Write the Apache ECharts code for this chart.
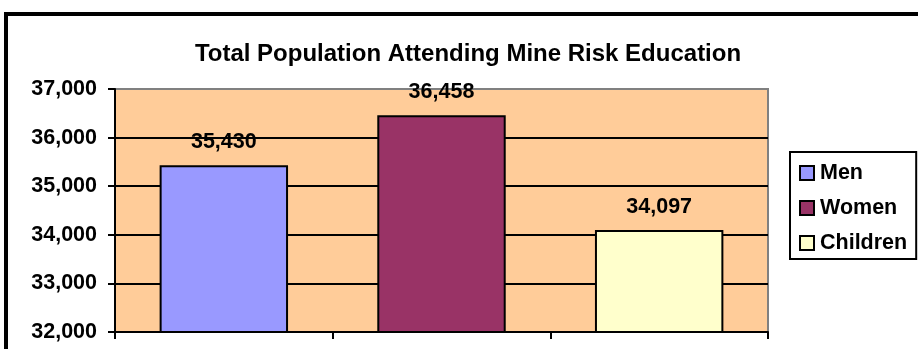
<!DOCTYPE html>
<html>
<head>
<meta charset="utf-8">
<script src="https://cdn.jsdelivr.net/npm/echarts@6/dist/echarts.min.js"></script>
<style>
  html, body { margin: 0; padding: 0; background: #fff; }
  #chart { width: 918px; height: 349px; }
</style>
</head>
<body>
<div id="chart"></div>
<script>
// Population groups and the number attending mine risk education
const groups = ['Men', 'Women', 'Children'];
const attendance = [35430, 36458, 34097];
const groupColors = ['#9999FF', '#993366', '#FFFFCC'];

// Value axis range
const yMin = 32000;
const yMax = 37000;
const yStep = 1000;

const FONT = 'Arial, "Liberation Sans", sans-serif';

function withCommas(v) {
  return String(v).replace(/\B(?=(\d{3})+(?!\d))/g, ',');
}

const chart = echarts.init(document.getElementById('chart'), null, { renderer: 'canvas' });

// One bar per group, overlaid on its own category slot so each group gets a legend entry
const series = groups.map((name, i) => ({
  name: name,
  type: 'bar',
  data: attendance.map((v, j) => (j === i ? v : '-')),
  barGap: '-100%',
  barCategoryGap: '41%',
  itemStyle: { color: groupColors[i], borderColor: '#000', borderWidth: 2 },
  label: {
    show: true,
    position: 'top',
    distance: 12,
    formatter: p => withCommas(p.value),
    color: '#000',
    fontFamily: FONT,
    fontWeight: 'bold',
    fontSize: 21.5
  },
  emphasis: { disabled: true },
  animation: false
}));

chart.setOption({
  animation: false,
  backgroundColor: '#fff',
  title: {
    text: 'Total Population Attending Mine Risk Education',
    left: 468,
    top: 42,
    padding: 0,
    textAlign: 'center',
    textStyle: { color: '#000', fontFamily: FONT, fontWeight: 'bold', fontSize: 24 }
  },
  legend: {
    orient: 'vertical',
    left: 790,
    top: 152,
    padding: [10, 9, 5, 9],
    itemGap: 13,
    itemWidth: 14,
    itemHeight: 14,
    icon: 'rect',
    borderColor: '#000',
    borderWidth: 2,
    backgroundColor: '#fff',
    selectedMode: false,
    itemStyle: { borderColor: '#000', borderWidth: 2 },
    textStyle: { color: '#000', fontFamily: FONT, fontWeight: 'bold', fontSize: 21.5, padding: [0, 0, 0, 1] },
    data: groups
  },
  grid: {
    left: 115,
    top: 89,
    right: 150,
    bottom: 17,
    show: true,
    backgroundColor: '#FFCC99',
    borderColor: '#808080',
    borderWidth: 2
  },
  xAxis: {
    type: 'category',
    data: groups,
    boundaryGap: true,
    axisLine: { show: true, lineStyle: { color: '#000', width: 2 } },
    axisTick: { show: true, length: 7, lineStyle: { color: '#000', width: 2 } },
    axisLabel: { show: false },
    splitLine: { show: false }
  },
  yAxis: {
    type: 'value',
    min: yMin,
    max: yMax,
    interval: yStep,
    axisLine: { show: true, lineStyle: { color: '#000', width: 2 } },
    axisTick: { show: true, length: 7, lineStyle: { color: '#000', width: 2 } },
    axisLabel: {
      margin: 18,
      formatter: v => withCommas(v),
      color: '#000',
      fontFamily: FONT,
      fontWeight: 'bold',
      fontSize: 21.5
    },
    splitLine: {
      show: true,
      showMinLine: false,
      showMaxLine: false,
      lineStyle: { color: '#000', width: 2 }
    }
  },
  graphic: [{
    type: 'rect',
    shape: { x: 6, y: 14, width: 1000, height: 1000 },
    style: { fill: 'none', stroke: '#000', lineWidth: 4 },
    silent: true,
    z: 100
  }],
  series: series
});
</script>
</body>
</html>
